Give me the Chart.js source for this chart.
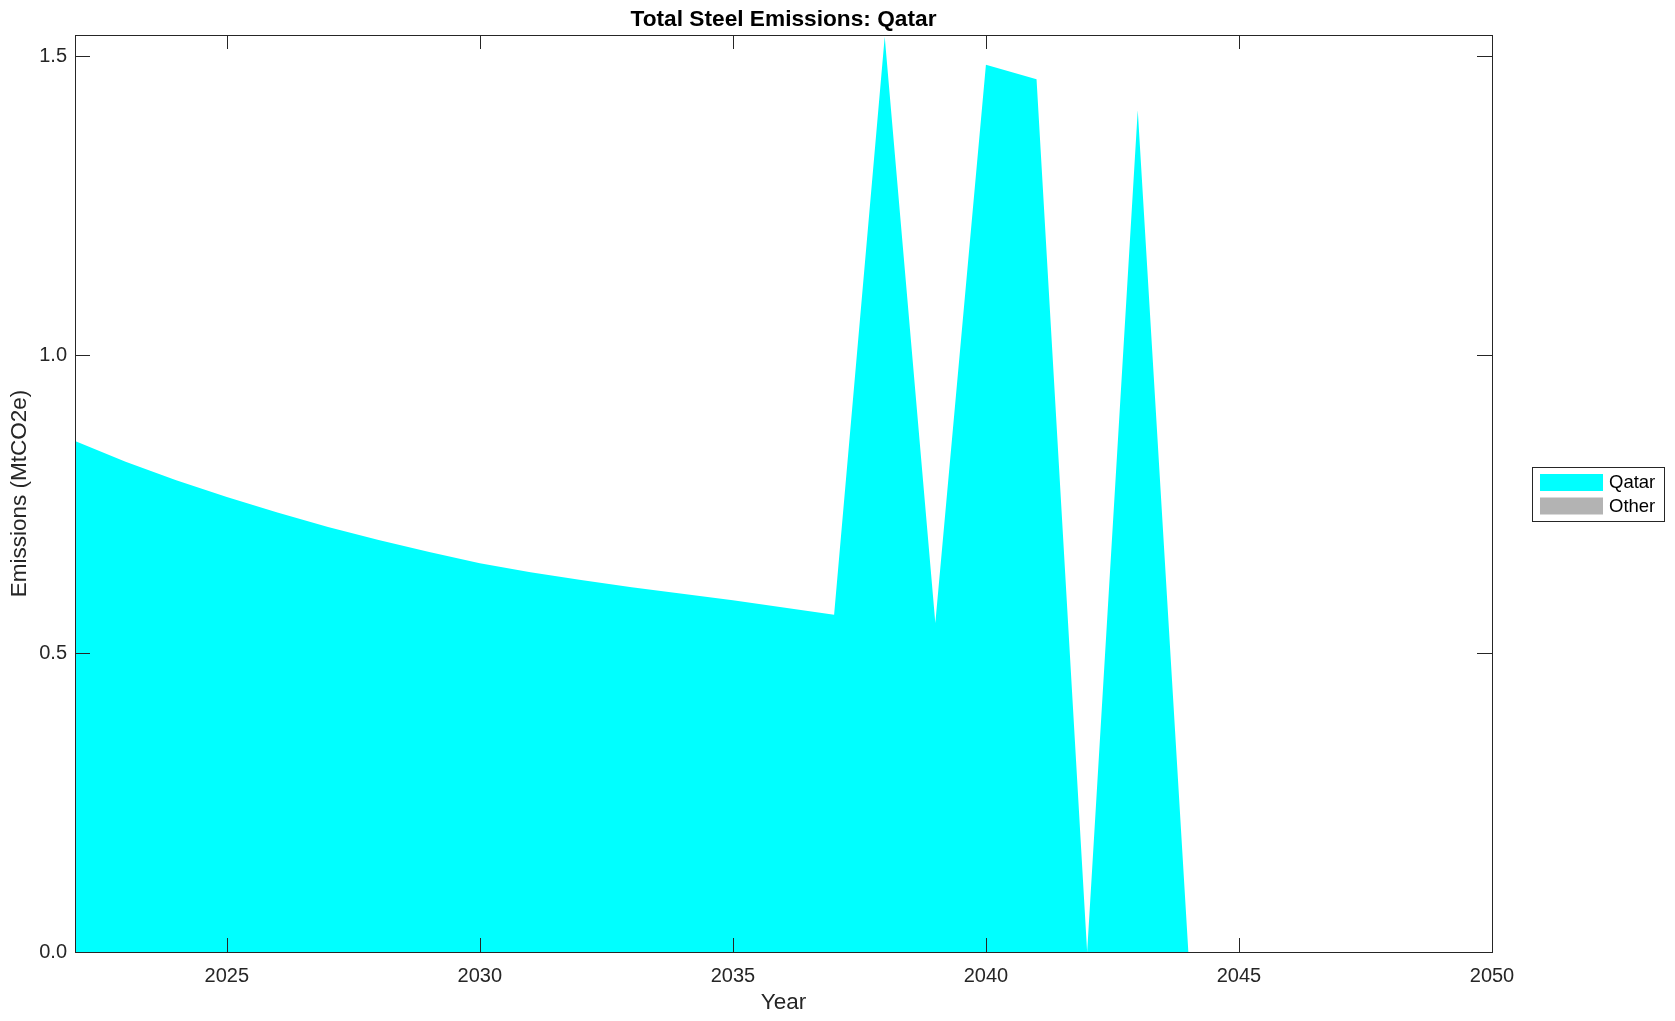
<!DOCTYPE html>
<html>
<head>
<meta charset="utf-8">
<title>Total Steel Emissions: Qatar</title>
<script src="https://cdn.jsdelivr.net/npm/chart.js@4.4.1/dist/chart.umd.min.js"></script>
<style>
    html, body { margin: 0; padding: 0; background: #fff; }
    #wrap { width: 1675px; height: 1021px; }
</style>
</head>
<body>
<div id="wrap"><canvas id="emissionsChart" width="1675" height="1021"></canvas></div>
<script>
const years = [2022, 2023, 2024, 2025, 2026, 2027, 2028, 2029, 2030, 2031, 2032, 2033, 2034, 2035,
    2036, 2037, 2038, 2039, 2040, 2041, 2042, 2043, 2044, 2045, 2046, 2047, 2048, 2049, 2050];

const qatar = [0.856, 0.821, 0.790, 0.762, 0.736, 0.712, 0.690, 0.670, 0.651, 0.636, 0.623, 0.611, 0.600, 0.589,
    0.577, 0.565, 1.533, 0.551, 1.486, 1.462, 0, 1.410, 0, 0, 0, 0, 0, 0, 0];

const other = [0, 0, 0, 0, 0, 0, 0, 0, 0, 0, 0, 0, 0, 0,
    0, 0, 0, 0, 0, 0, 0, 0, 0, 0, 0, 0, 0, 0, 0];

const seriesNames = ['Qatar', 'Other'];
const xTicks = [2025, 2030, 2035, 2040, 2045, 2050];
const yTicks = [0, 0.5, 1.0, 1.5];

const axisColor = '#262626';
const fontFamily = '"Liberation Sans", Arial, Helvetica, sans-serif';

function toPoints(values) {
    return years.map((yr, i) => ({ x: yr, y: values[i] }));
}

// matlab style frame: box, inward ticks, titles and a boxed legend
const matlabFrame = {
    id: 'matlabFrame',
    beforeDraw(chart) {
        const ctx = chart.ctx;
        ctx.save();
        ctx.fillStyle = '#fff';
        ctx.fillRect(0, 0, chart.width, chart.height);
        ctx.restore();
    },
    afterDraw(chart) {
        const ctx = chart.ctx;
        const area = chart.chartArea;
        const xs = chart.scales.x;
        const ys = chart.scales.y;

        ctx.save();
        ctx.strokeStyle = axisColor;
        ctx.lineWidth = 1;
        ctx.strokeRect(Math.round(area.left) + 0.5, Math.round(area.top) + 0.5,
            Math.round(area.right - area.left), Math.round(area.bottom - area.top));

        ctx.beginPath();
        xs.ticks.forEach(t => {
            const px = Math.round(xs.getPixelForValue(t.value)) + 0.5;
            ctx.moveTo(px, area.bottom);
            ctx.lineTo(px, area.bottom - 14);
            ctx.moveTo(px, area.top);
            ctx.lineTo(px, area.top + 14);
        });
        ys.ticks.forEach(t => {
            const py = Math.round(ys.getPixelForValue(t.value)) + 0.5;
            ctx.moveTo(area.left, py);
            ctx.lineTo(area.left + 15, py);
            ctx.moveTo(area.right, py);
            ctx.lineTo(area.right - 15, py);
        });
        ctx.stroke();

        // title
        const cx = (area.left + area.right) / 2;
        ctx.fillStyle = '#000';
        ctx.textAlign = 'center';
        ctx.textBaseline = 'middle';
        ctx.font = 'bold 22.7px ' + fontFamily;
        ctx.fillText('Total Steel Emissions: Qatar', cx, 20);

        // axis titles
        ctx.fillStyle = axisColor;
        ctx.font = '22.5px ' + fontFamily;
        ctx.fillText('Year', cx, 1003);
        ctx.save();
        ctx.translate(20, (area.top + area.bottom) / 2);
        ctx.rotate(-Math.PI / 2);
        ctx.fillText('Emissions (MtCO2e)', 0, 0);
        ctx.restore();

        // legend
        const lx = 1532, ly = 467, lw = 132, lh = 54;
        ctx.fillStyle = '#fff';
        ctx.fillRect(lx, ly, lw, lh);
        ctx.strokeStyle = axisColor;
        ctx.strokeRect(lx + 0.5, ly + 0.5, lw, lh);
        ctx.font = '18.5px ' + fontFamily;
        ctx.textAlign = 'left';
        chart.data.datasets.forEach((ds, i) => {
            const sy = ly + 7 + i * 23.5;
            ctx.fillStyle = ds.backgroundColor;
            ctx.fillRect(lx + 8, sy, 63, 17);
            ctx.fillStyle = '#000';
            ctx.fillText(ds.label, lx + 77, sy + 9);
        });
        ctx.restore();
    }
};

new Chart(document.getElementById('emissionsChart').getContext('2d'), {
    type: 'line',
    data: {
        datasets: [
            {
                label: seriesNames[0],
                data: toPoints(qatar),
                backgroundColor: '#00ffff',
                borderColor: '#00ffff',
                borderWidth: 0,
                pointRadius: 0,
                tension: 0,
                fill: 'origin'
            },
            {
                label: seriesNames[1],
                data: toPoints(other),
                backgroundColor: '#b3b3b3',
                borderColor: '#b3b3b3',
                borderWidth: 0,
                pointRadius: 0,
                tension: 0,
                fill: '-1'
            }
        ]
    },
    options: {
        responsive: false,
        animation: false,
        devicePixelRatio: 1,
        layout: { padding: { top: 35, right: 183, left: 0, bottom: 0 } },
        plugins: {
            legend: { display: false },
            tooltip: { enabled: false },
            title: { display: false }
        },
        scales: {
            x: {
                type: 'linear',
                min: 2022,
                max: 2050,
                afterBuildTicks: scale => { scale.ticks = xTicks.map(v => ({ value: v })); },
                afterFit: scale => { scale.height = 69; },
                grid: { display: false, drawTicks: false },
                border: { display: false },
                ticks: {
                    color: axisColor,
                    font: { family: fontFamily, size: 20 },
                    padding: 12,
                    maxRotation: 0,
                    callback: v => String(v)
                }
            },
            y: {
                type: 'linear',
                stacked: true,
                min: 0,
                max: 1.536,
                afterBuildTicks: scale => { scale.ticks = yTicks.map(v => ({ value: v })); },
                afterFit: scale => { scale.width = 75; },
                grid: { display: false, drawTicks: false },
                border: { display: false },
                ticks: {
                    color: axisColor,
                    font: { family: fontFamily, size: 20 },
                    padding: 8,
                    callback: v => Number(v).toFixed(1)
                }
            }
        }
    },
    plugins: [matlabFrame]
});
</script>
</body>
</html>
